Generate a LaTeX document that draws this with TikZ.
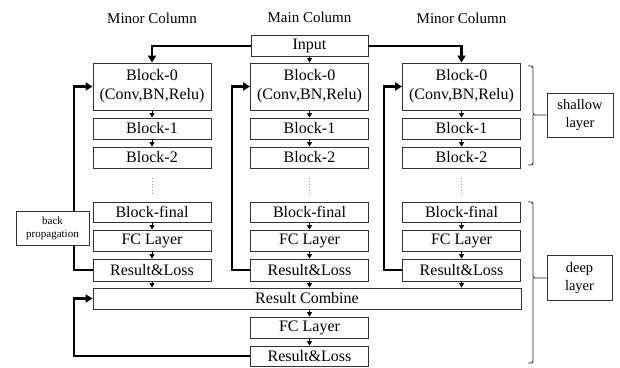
\documentclass[tikz,border=0pt]{standalone}
\usepackage{fontspec}
\setmainfont{Liberation Serif}
\usetikzlibrary{arrows.meta}
\begin{document}
\begin{tikzpicture}[x=1pt,y=-1pt,
  box/.style={draw=black!80, line width=0.9pt, fill=white, minimum width=118pt, inner sep=0pt,
    font=\fontsize{16}{19}\selectfont, align=center},
  title/.style={font=\fontsize{15}{17}\selectfont, inner sep=0pt},
  sidebox/.style={draw=black!80, line width=0.9pt, fill=white, inner sep=0pt,
    font=\fontsize{14.5}{18}\selectfont, align=center, minimum width=66pt, minimum height=44pt},
  bigarrow/.style={line width=2.6pt, -{Triangle[length=7pt,width=8pt]}},
  smallarrow/.style={line width=0.7pt, -{Triangle[length=4.5pt,width=5pt]}},
  bracket/.style={draw=black!85, line width=0.9pt, rounded corners=2pt},
  dotsline/.style={draw=black!40, line width=0.8pt, dash pattern=on 0.8pt off 2.2pt}]
\useasboundingbox (0,0) rectangle (620,367);

% titles
\node[title] (t1) at (152,18) {Minor Column};
\node[title] (t2) at (309.5,17) {Main Column};
\node[title] (t3) at (461.5,18) {Minor Column};

% input
\node[box, minimum width=117pt, minimum height=21pt] (in) at (309.5,46) {Input};

% columns
\foreach \c/\cx in {l/152, m/309.5, r/461.5}{
  \node[box, minimum height=47pt] (\c b0) at (\cx,86.5) {Block-0\\(Conv,BN,Relu)};
  \node[box, minimum height=21pt] (\c b1) at (\cx,128.5) {Block-1};
  \node[box, minimum height=21pt] (\c b2) at (\cx,157.5) {Block-2};
  \coordinate (\c d1) at (\cx,178);
  \coordinate (\c d2) at (\cx,195);
  \node[box, minimum height=20pt] (\c bf) at (\cx,212) {Block-final};
  \node[box, minimum height=21pt] (\c fc) at (\cx,240.5) {FC Layer};
  \node[box, minimum height=22pt] (\c rl) at (\cx,270) {Result\&Loss};
  \draw[smallarrow] (\c b0.south) -- (\c b1.north);
  \draw[smallarrow] (\c b1.south) -- (\c b2.north);
  \draw[dotsline] (\c d1) -- (\c d2);
  \draw[smallarrow] (\c bf.south) -- (\c fc.north);
  \draw[smallarrow] (\c fc.south) -- (\c rl.north);
}

% combine
\node[box, minimum width=428pt, minimum height=21pt] (rc) at (307,298.5) {Result Combine};
\node[box, minimum height=21pt] (fcb) at (309.5,327.5) {FC Layer};
\node[box, minimum height=20pt] (rlb) at (309.5,356) {Result\&Loss};

\foreach \c in {l,m,r}{
  \draw[smallarrow] (\c rl.south) -- (\c rl.south |- rc.north);
}
\draw[smallarrow] (fcb.north |- rc.south) -- (fcb.north);
\draw[smallarrow] (fcb.south) -- (rlb.north);

% input arrows
\draw[bigarrow] (in.west) -| (lb0.north);
\draw[bigarrow] (in.east) -| (rb0.north);
\draw[smallarrow] (in.south) -- (mb0.north);

% feedback arrows
\coordinate (fl) at (74,0);
\coordinate (fm) at (232,0);
\coordinate (fr) at (384,0);
\draw[bigarrow] (lrl.west) -- (lrl.west -| fl) |- (lb0.west);
\draw[bigarrow] (mrl.west) -- (mrl.west -| fm) |- (mb0.west);
\draw[bigarrow] (rrl.west) -- (rrl.west -| fr) |- (rb0.west);
\draw[bigarrow] (rlb.west) -- (rlb.west -| fl) |- (rc.west);

% back propagation label
\node[draw=black!80, line width=0.9pt, fill=white, inner sep=0pt, minimum width=73pt,
  minimum height=34pt, align=center, font=\fontsize{11}{13}\selectfont] (bp) at (52.5,228) {back\\propagation};

% side labels
\node[sidebox] (sh) at (580,115) {shallow\\layer};
\node[sidebox, minimum width=65pt, minimum height=45pt] (dp) at (579.5,278) {deep\\layer};

\coordinate (sht) at (528,66);
\coordinate (shb) at (528,165);
\draw[bracket] (sht) -- ++(5,0) -- (533,115) -- (sh.west);
\draw[bracket] (shb) -- ++(5,0) -- (533,115);
\coordinate (dpt) at (528,202);
\coordinate (dpb) at (528,363);
\draw[bracket] (dpt) -- ++(5,0) -- (533,278) -- (dp.west);
\draw[bracket] (dpb) -- ++(5,0) -- (533,278);
\end{tikzpicture}
\end{document}
